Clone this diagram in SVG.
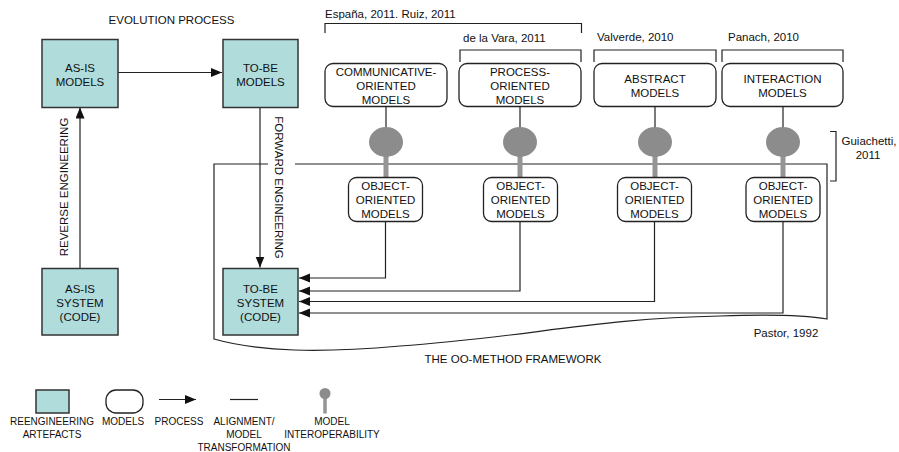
<svg xmlns="http://www.w3.org/2000/svg" width="899" height="452" viewBox="0 0 899 452">
  <defs>
    <marker id="arrow" markerUnits="userSpaceOnUse" markerWidth="12" markerHeight="10" refX="11" refY="4.5" orient="auto">
      <path d="M0,0 L11,4.5 L0,9 Z" fill="#111"/>
    </marker>
    <style>
      text { font-family: "Liberation Sans", Arial, Helvetica, sans-serif; font-size: 11.5px; fill: #111; }
      .c { text-anchor: middle; }
      .leg { font-size: 10px; text-anchor: middle; }
      .artefact { fill: #b0dcdc; stroke: #333; stroke-width: 1.5; }
      .model { fill: #fff; stroke: #222; stroke-width: 1.3; }
      .line { fill: none; stroke: #222; stroke-width: 1.2; }
      .frame { fill: none; stroke: #222; stroke-width: 1.2; }
      .bracket { fill: none; stroke: #222; stroke-width: 1.2; }
      .interop { fill: #8c8c8c; }
      .stem { stroke: #959595; stroke-width: 5; }
    </style>
  </defs>

  <rect width="899" height="452" fill="#fff"/>

  <!-- headings and citations -->
  <text class="c" x="171.5" y="24">EVOLUTION PROCESS</text>
  <text x="325" y="18">España, 2011. Ruiz, 2011</text>
  <text x="463" y="42">de la Vara, 2011</text>
  <text x="597" y="41">Valverde, 2010</text>
  <text x="728" y="41">Panach, 2010</text>
  <text class="c" x="869" y="145">Guiachetti,</text>
  <text class="c" x="868" y="159">2011</text>
  <text class="c" x="786" y="337">Pastor, 1992</text>
  <text class="c" x="513" y="363">THE OO-METHOD FRAMEWORK</text>

  <!-- citation brackets -->
  <g id="brackets">
    <path class="bracket" d="M325,33 V23.5 H581.5 V33"/>
    <path class="bracket" d="M460,62 V50 H581 V62"/>
    <path class="bracket" d="M594,62 V50 H716 V62"/>
    <path class="bracket" d="M722,62 V50 H843 V62"/>
    <path class="bracket" d="M830,131.5 H836 V181 H830"/>
  </g>

  <!-- OO-Method framework outline (document shape) -->
  <g id="framework">
    <path class="frame" d="M268,164 H214 V339 C260,352 320,353 400,346 C520,338 600,318 720,316 C780,314 810,316 827,319 V164 H295"/>
  </g>

  <!-- connectors -->
  <g id="connectors">
    <!-- evolution / reengineering processes -->
    <line class="line" x1="118" y1="72.5" x2="222" y2="72.5" marker-end="url(#arrow)"/>
    <line class="line" x1="80" y1="268" x2="80" y2="107.5" marker-end="url(#arrow)"/>
    <line class="line" x1="260" y1="107" x2="260" y2="267.5" marker-end="url(#arrow)"/>

    <!-- alignment lines: model boxes to interoperability bulbs -->
    <line class="line" x1="386" y1="106.5" x2="386" y2="128"/>
    <line class="line" x1="520" y1="106.5" x2="520" y2="128"/>
    <line class="line" x1="655" y1="106.5" x2="655" y2="128"/>
    <line class="line" x1="783" y1="106.5" x2="783" y2="128"/>

    <!-- model transformations into the target system -->
    <path class="line" d="M385.5,221.5 V278 H299" marker-end="url(#arrow)"/>
    <path class="line" d="M520,221.5 V291 H299" marker-end="url(#arrow)"/>
    <path class="line" d="M654.5,221.5 V301.5 H299" marker-end="url(#arrow)"/>
    <path class="line" d="M783,221.5 V313 H299" marker-end="url(#arrow)"/>
  </g>

  <!-- model interoperability bulbs -->
  <g id="interop-1">
    <line class="stem" x1="386" y1="150" x2="386" y2="177"/>
    <ellipse class="interop" cx="386" cy="142" rx="17" ry="15"/>
  </g>
  <g id="interop-2">
    <line class="stem" x1="520" y1="150" x2="520" y2="177"/>
    <ellipse class="interop" cx="520" cy="142" rx="17" ry="15"/>
  </g>
  <g id="interop-3">
    <line class="stem" x1="655" y1="150" x2="655" y2="177"/>
    <ellipse class="interop" cx="655" cy="142" rx="17" ry="15"/>
  </g>
  <g id="interop-4">
    <line class="stem" x1="783" y1="150" x2="783" y2="177"/>
    <ellipse class="interop" cx="783" cy="142" rx="17" ry="15"/>
  </g>

  <!-- reengineering artefacts -->
  <g id="as-is-models">
    <rect class="artefact" x="42" y="39.5" width="76" height="68"/>
    <text class="c" x="80" y="71.5">AS-IS</text>
    <text class="c" x="80" y="85.5">MODELS</text>
  </g>
  <g id="to-be-models">
    <rect class="artefact" x="223" y="39.5" width="75" height="68"/>
    <text class="c" x="260.5" y="71.5">TO-BE</text>
    <text class="c" x="260.5" y="85.5">MODELS</text>
  </g>
  <g id="as-is-system">
    <rect class="artefact" x="42" y="268.5" width="76" height="66.5"/>
    <text class="c" x="80" y="293">AS-IS</text>
    <text class="c" x="80" y="307">SYSTEM</text>
    <text class="c" x="80" y="321">(CODE)</text>
  </g>
  <g id="to-be-system">
    <rect class="artefact" x="223" y="268.5" width="75" height="66.5"/>
    <text class="c" x="260.5" y="293">TO-BE</text>
    <text class="c" x="260.5" y="307">SYSTEM</text>
    <text class="c" x="260.5" y="321">(CODE)</text>
  </g>

  <!-- process labels -->
  <text class="c" transform="translate(68,187) rotate(-90)">REVERSE ENGINEERING</text>
  <text class="c" transform="translate(274.5,187.5) rotate(90)">FORWARD ENGINEERING</text>

  <!-- source models -->
  <g id="communicative-models">
    <rect class="model" x="325" y="63.5" width="122" height="43" rx="8"/>
    <text class="c" x="386" y="76">COMMUNICATIVE-</text>
    <text class="c" x="386" y="90">ORIENTED</text>
    <text class="c" x="386" y="103.5">MODELS</text>
  </g>
  <g id="process-models">
    <rect class="model" x="459" y="63.5" width="122" height="43" rx="8"/>
    <text class="c" x="520" y="76">PROCESS-</text>
    <text class="c" x="520" y="90">ORIENTED</text>
    <text class="c" x="520" y="103.5">MODELS</text>
  </g>
  <g id="abstract-models">
    <rect class="model" x="594" y="63.5" width="122" height="43" rx="8"/>
    <text class="c" x="655" y="83.3">ABSTRACT</text>
    <text class="c" x="655" y="97">MODELS</text>
  </g>
  <g id="interaction-models">
    <rect class="model" x="722" y="63.5" width="121" height="43" rx="8"/>
    <text class="c" x="782.5" y="83.3">INTERACTION</text>
    <text class="c" x="782.5" y="97">MODELS</text>
  </g>

  <!-- object-oriented models -->
  <g id="oo-models-1">
    <rect class="model" x="348.5" y="177.5" width="74" height="44" rx="8"/>
    <text class="c" x="385.5" y="190">OBJECT-</text>
    <text class="c" x="385.5" y="204">ORIENTED</text>
    <text class="c" x="385.5" y="217.7">MODELS</text>
  </g>
  <g id="oo-models-2">
    <rect class="model" x="483.5" y="177.5" width="74" height="44" rx="8"/>
    <text class="c" x="520.5" y="190">OBJECT-</text>
    <text class="c" x="520.5" y="204">ORIENTED</text>
    <text class="c" x="520.5" y="217.7">MODELS</text>
  </g>
  <g id="oo-models-3">
    <rect class="model" x="617.5" y="177.5" width="74" height="44" rx="8"/>
    <text class="c" x="654.5" y="190">OBJECT-</text>
    <text class="c" x="654.5" y="204">ORIENTED</text>
    <text class="c" x="654.5" y="217.7">MODELS</text>
  </g>
  <g id="oo-models-4">
    <rect class="model" x="746" y="177.5" width="74" height="44" rx="8"/>
    <text class="c" x="783" y="190">OBJECT-</text>
    <text class="c" x="783" y="204">ORIENTED</text>
    <text class="c" x="783" y="217.7">MODELS</text>
  </g>

  <!-- legend -->
  <g id="legend">
    <rect class="artefact" x="36" y="390" width="33" height="23"/>
    <rect class="model" x="106" y="390" width="37" height="23" rx="10"/>
    <line class="line" x1="159" y1="399.5" x2="196" y2="399.5" marker-end="url(#arrow)"/>
    <line class="line" x1="230" y1="399.5" x2="258" y2="399.5"/>
    <line stroke="#959595" stroke-width="3.5" x1="325" y1="396" x2="325" y2="413.5"/>
    <circle class="interop" cx="325" cy="393.5" r="5.5"/>
    <text class="leg" x="52" y="425">REENGINEERING</text>
    <text class="leg" x="52" y="438">ARTEFACTS</text>
    <text class="leg" x="123" y="425">MODELS</text>
    <text class="leg" x="179" y="425">PROCESS</text>
    <text class="leg" x="244" y="425">ALIGNMENT/</text>
    <text class="leg" x="244" y="438">MODEL</text>
    <text class="leg" x="244" y="451">TRANSFORMATION</text>
    <text class="leg" x="332" y="425">MODEL</text>
    <text class="leg" x="332" y="438">INTEROPERABILITY</text>
  </g>
</svg>
